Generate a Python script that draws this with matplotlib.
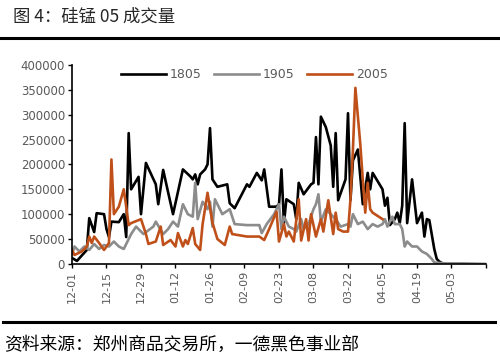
import matplotlib
matplotlib.use('Agg')
import matplotlib.pyplot as plt
import matplotlib.dates as mdates
from matplotlib.lines import Line2D
import pandas as pd

plt.rcParams['font.family'] = ['Noto Sans CJK SC', 'DejaVu Sans']

# 1805 contract (black)
d1805 = ['12-01', '12-03', '12-07', '12-08', '12-10', '12-11', '12-14', '12-15', '12-16', '12-17',
         '12-20', '12-22', '12-23', '12-24', '12-25', '12-28', '12-29', '12-31', '01-04', '01-05',
         '01-07', '01-09', '01-11', '01-15', '01-18', '01-19', '01-20', '01-21', '01-22', '01-24',
         '01-25', '01-26', '01-27', '01-29', '02-02', '02-03', '02-05', '02-10', '02-11', '02-14',
         '02-16', '02-17', '02-19', '02-22', '02-23', '02-24', '02-25', '02-26', '02-29', '03-01',
         '03-02', '03-04', '03-07', '03-08', '03-09', '03-10', '03-11', '03-13', '03-15', '03-16',
         '03-17', '03-18', '03-21', '03-22', '03-23', '03-24', '03-26', '03-28', '03-30', '03-31',
         '04-01', '04-05', '04-06', '04-07', '04-08', '04-10', '04-11', '04-12', '04-13', '04-14',
         '04-15', '04-17', '04-19', '04-21', '04-22', '04-23', '04-24', '04-26', '04-27', '04-28',
         '04-29']
v1805 = [12, 6, 28, 92, 64, 102, 100, 70, 54, 85,
         84, 100, 54, 263, 150, 175, 100, 203, 160, 120,
         189, 144, 100, 190, 176, 170, 180, 160, 180, 190,
         200, 273, 170, 155, 160, 122, 112, 160, 155, 183,
         168, 190, 115, 115, 120, 190, 82, 130, 120, 90,
         163, 140, 160, 163, 255, 160, 296, 275, 238, 155,
         263, 128, 170, 303, 128, 208, 230, 120, 183, 150,
         183, 150, 117, 133, 78, 90, 103, 82, 117, 283,
         82, 170, 82, 103, 55, 90, 88, 30, 10, 5,
         2]

# 1905 contract (grey)
d1905 = ['12-01', '12-02', '12-04', '12-06', '12-08', '12-10', '12-12', '12-14', '12-16', '12-18',
         '12-20', '12-22', '12-25', '12-27', '12-30', '01-03', '01-04', '01-07', '01-09', '01-11',
         '01-13', '01-15', '01-17', '01-19', '01-20', '01-21', '01-23', '01-25', '01-26', '01-27',
         '01-28', '01-31', '02-03', '02-05', '02-10', '02-15', '02-16', '02-18', '02-21', '02-23',
         '02-24', '02-25', '02-27', '02-29', '03-01', '03-03', '03-04', '03-06', '03-08', '03-09',
         '03-10', '03-11', '03-13', '03-16', '03-17', '03-19', '03-22', '03-23', '03-24', '03-26',
         '03-28', '03-30', '04-01', '04-03', '04-05', '04-06', '04-07', '04-09', '04-10', '04-12',
         '04-13', '04-14', '04-15', '04-17', '04-19', '04-21', '04-23', '04-25', '04-26', '04-28',
         '05-01', '05-08', '05-17']
v1905 = [20, 35, 25, 35, 28, 40, 30, 38, 35, 45,
         35, 30, 60, 75, 60, 75, 85, 60, 70, 85,
         75, 120, 100, 95, 163, 90, 125, 110, 125, 75,
         130, 100, 110, 80, 78, 78, 62, 80, 100, 120,
         70, 95, 75, 70, 65, 90, 70, 80, 110, 120,
         140, 85, 110, 95, 90, 75, 80, 75, 100, 80,
         85, 70, 80, 75, 80, 90, 75, 95, 80, 80,
         70, 35, 45, 35, 35, 25, 20, 10, 3, 2,
         1, 1, 0]

# 2005 contract (orange)
d2005 = ['12-01', '12-02', '12-05', '12-07', '12-08', '12-09', '12-10', '12-12', '12-14', '12-16',
         '12-17', '12-18', '12-20', '12-22', '12-23', '12-24', '12-25', '12-29', '12-31', '01-01',
         '01-04', '01-06', '01-07', '01-10', '01-12', '01-13', '01-15', '01-16', '01-17', '01-19',
         '01-20', '01-22', '01-23', '01-25', '01-27', '01-29', '02-01', '02-03', '02-04', '02-10',
         '02-15', '02-17', '02-19', '02-22', '02-23', '02-25', '02-26', '02-27', '02-29', '03-02',
         '03-03', '03-05', '03-06', '03-07', '03-09', '03-11', '03-12', '03-14', '03-16', '03-17',
         '03-18', '03-20', '03-22', '03-23', '03-24', '03-25', '03-27', '03-28', '03-29', '03-30',
         '03-31', '04-01', '04-05']
v2005 = [28, 18, 25, 35, 55, 42, 55, 42, 28, 42,
         210, 100, 115, 150, 115, 78, 82, 90, 60, 40,
         45, 75, 38, 48, 35, 62, 35, 48, 40, 72,
         40, 28, 80, 143, 83, 50, 38, 75, 60, 55,
         55, 48, 70, 105, 45, 80, 55, 65, 45, 130,
         47, 90, 47, 100, 55, 90, 65, 128, 60, 103,
         70, 65, 65, 130, 230, 354, 240, 170, 103, 163,
         110, 103, 90]


def to_dates(md):
    return pd.to_datetime([('2019-' if m.startswith('12') else '2020-') + m for m in md])


fig = plt.figure(figsize=(5, 3.63), dpi=100)
ax = fig.add_axes([0.144, 0.273, 0.828, 0.548])

series = [('1805', d1805, v1805, '#000000'),
          ('1905', d1905, v1905, '#8c8c8c'),
          ('2005', d2005, v2005, '#c0501a')]
for name, d, v, c in series:
    ax.plot(to_dates(d), [x * 1000 for x in v], color=c, lw=1.9, label=name)

start = pd.Timestamp('2019-12-01')
ticks = pd.date_range(start, periods=13, freq='14D')
ax.set_xlim(ticks[0], ticks[-1])
ax.set_xticks(ticks)
ax.set_xticklabels([t.strftime('%m-%d') for t in ticks[:-1]] + [''],
                   rotation=90, fontsize=8, color='#595959', family='DejaVu Sans')
ax.set_ylim(0, 400000)
ax.set_yticks(range(0, 400001, 50000))
ax.set_yticklabels([str(y) for y in range(0, 400001, 50000)],
                   fontsize=8.5, color='#595959', family='DejaVu Sans')
ax.tick_params(axis='both', direction='out', length=3, width=1, color='black', pad=2)
for s in ['top', 'right']:
    ax.spines[s].set_visible(False)
for s in ['left', 'bottom']:
    ax.spines[s].set_linewidth(1.2)

leg = ax.legend(loc='upper center', bbox_to_anchor=(0.44, 1.04), ncol=3, frameon=False,
                handlelength=3.6, columnspacing=1.0, handletextpad=0.3,
                prop={'family': 'DejaVu Sans', 'size': 9})
for t in leg.get_texts():
    t.set_color('#595959')

fig.text(0.026, 0.955, '图 4：硅锰 05 成交量', fontsize=12.5, color='#262626', va='center')
fig.add_artist(Line2D([0, 1], [0.895, 0.895], color='black', lw=2.2))
fig.add_artist(Line2D([0.005, 0.99], [0.113, 0.113], color='black', lw=2.2))
fig.text(0.008, 0.05, '资料来源：郑州商品交易所，一德黑色事业部', fontsize=12.8, color='black', va='center')

fig.savefig('out.png', dpi=100)
